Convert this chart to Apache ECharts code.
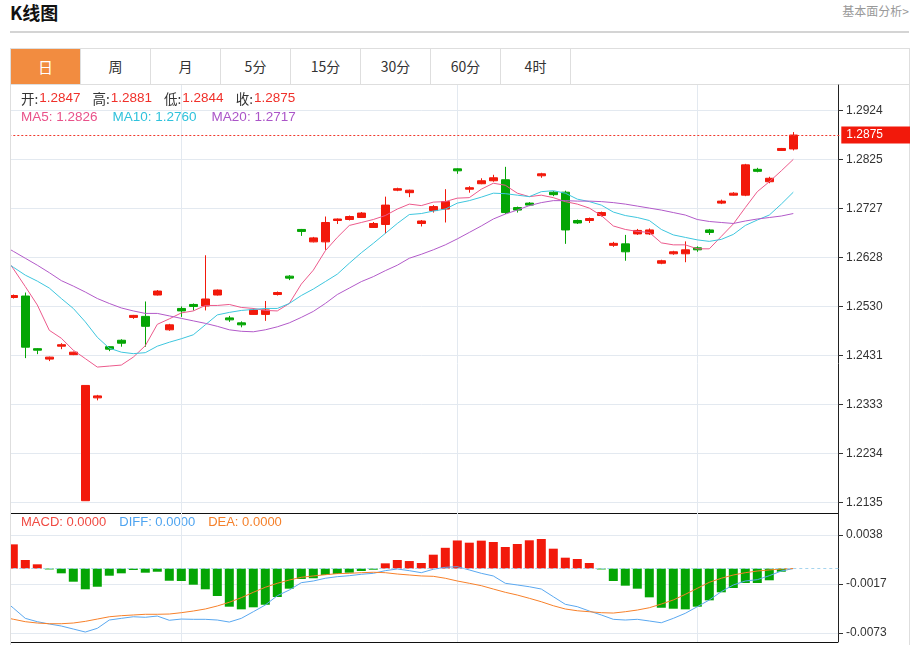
<!DOCTYPE html>
<html>
<head>
<meta charset="utf-8">
<script src="https://cdn.jsdelivr.net/npm/echarts@6/dist/echarts.min.js"></script>
<style>
  html,body{margin:0;padding:0;background:#fff;}
  body{font-family:"Liberation Sans","Noto Sans CJK SC",sans-serif;}
  #wrap{position:relative;width:918px;height:645px;overflow:hidden;background:#fff;}
  .title{position:absolute;left:10px;top:0;height:24px;line-height:24px;font-size:18px;font-weight:bold;color:#111;font-family:"Noto Sans CJK SC",sans-serif;}
  .more{position:absolute;right:9px;top:2px;line-height:18px;font-size:12px;color:#999;font-family:"Noto Sans CJK SC",sans-serif;}
  .hr{position:absolute;left:10px;top:31px;width:899px;height:2px;background:#d4d4d4;}
  .box{position:absolute;left:10px;top:48px;width:898px;height:640px;border:1px solid #dedede;}
  .tabs{position:absolute;left:11px;top:49px;width:898px;height:35px;border-bottom:1px solid #dedede;}
  .tab{float:left;width:69px;height:35px;border-right:1px solid #dedede;text-align:center;line-height:35px;font-size:14px;color:#333;font-family:"Noto Sans CJK SC",sans-serif;}
  .tab.on{background:#f28c40;color:#fff;font-size:15px;}
  #chart{position:absolute;left:0;top:0;width:918px;height:645px;}
  .mask{position:absolute;left:0;top:85px;width:10px;height:560px;background:#fff;border-right:1px solid #dedede;}
</style>
</head>
<body>
<div id="wrap">
  <div class="box"></div>
  <div class="title">K线图</div>
  <div class="more">基本面分析&gt;</div>
  <div class="hr"></div>
  <div class="tabs">
    <div class="tab on">日</div><div class="tab">周</div><div class="tab">月</div><div class="tab">5分</div><div class="tab">15分</div><div class="tab">30分</div><div class="tab">60分</div><div class="tab">4时</div>
  </div>
  <div id="chart"></div>
  <div class="mask"></div>
</div>
<script>
// ---------- data ----------
const categories = Array.from({length: 71}, (_, i) => 'd' + i);
const monthStartIdx = [15, 38, 58];

const opens = [null,
  1.2548, 1.2551, 1.2445, 1.2424, 1.2450, 1.2433, 1.2139, 1.2346, 1.2449, 1.2462,
  1.2508, 1.2510, 1.2553, 1.2483, 1.2526, 1.2534, 1.2531, 1.2553, 1.2507, 1.2497,
  1.2514, 1.2514, 1.2554, 1.2591, 1.2685, 1.2660, 1.2660, 1.2703, 1.2705, 1.2709,
  1.2689, 1.2695, 1.2764, 1.2759, 1.2697, 1.2723, 1.2726, 1.2807, 1.2766, 1.2777,
  1.2783, 1.2785, 1.2729, 1.2738, 1.2793, 1.2760, 1.2760, 1.2703, 1.2703, 1.2713,
  1.2653, 1.2656, 1.2676, 1.2676, 1.2617, 1.2636, 1.2636, 1.2648, 1.2684, 1.2738,
  1.2754, 1.2754, 1.2806, 1.2781, 1.2844, 1.2847];
const closes = [null,
  1.2552, 1.2448, 1.2442, 1.2428, 1.2453, 1.2438, 1.2371, 1.2350, 1.2444, 1.2456,
  1.2512, 1.2490, 1.2561, 1.2493, 1.2521, 1.2530, 1.2545, 1.2563, 1.2503, 1.2493,
  1.2523, 1.2523, 1.2558, 1.2587, 1.2681, 1.2668, 1.2699, 1.2706, 1.2711, 1.2718,
  1.2697, 1.2734, 1.2767, 1.2764, 1.2702, 1.2731, 1.2741, 1.2803, 1.2769, 1.2783,
  1.2789, 1.2719, 1.2724, 1.2734, 1.2797, 1.2755, 1.2684, 1.2698, 1.2707, 1.2719,
  1.2657, 1.2640, 1.2683, 1.2684, 1.2622, 1.2640, 1.2644, 1.2644, 1.2679, 1.2742,
  1.2758, 1.2815, 1.2802, 1.2788, 1.2848, 1.2875];
const lows = [null,
  1.2546, 1.2426, 1.2434, 1.2420, 1.2444, 1.2432, 1.2139, 1.2341, 1.2440, 1.2449,
  1.2505, 1.2449, 1.2552, 1.2481, 1.2509, 1.2522, 1.2522, 1.2552, 1.2499, 1.2488,
  1.2513, 1.2501, 1.2552, 1.2583, 1.2672, 1.2659, 1.2644, 1.2696, 1.2703, 1.2708,
  1.2688, 1.2677, 1.2762, 1.2750, 1.2691, 1.2719, 1.2699, 1.2797, 1.2759, 1.2776,
  1.2781, 1.2716, 1.2719, 1.2732, 1.2789, 1.2752, 1.2656, 1.2696, 1.2698, 1.2711,
  1.2650, 1.2622, 1.2674, 1.2674, 1.2615, 1.2634, 1.2619, 1.2640, 1.2674, 1.2736,
  1.2753, 1.2752, 1.2800, 1.2778, 1.2843, 1.2844];
const highs = [null,
  1.2554, 1.2558, 1.2446, 1.2429, 1.2456, 1.2439, 1.2371, 1.2352, 1.2450, 1.2464,
  1.2513, 1.2540, 1.2563, 1.2495, 1.2530, 1.2536, 1.2633, 1.2564, 1.2511, 1.2500,
  1.2526, 1.2541, 1.2560, 1.2593, 1.2686, 1.2670, 1.2711, 1.2707, 1.2713, 1.2720,
  1.2700, 1.2751, 1.2769, 1.2765, 1.2704, 1.2734, 1.2766, 1.2808, 1.2772, 1.2788,
  1.2795, 1.2811, 1.2731, 1.2740, 1.2799, 1.2762, 1.2763, 1.2705, 1.2709, 1.2721,
  1.2660, 1.2674, 1.2686, 1.2687, 1.2624, 1.2642, 1.2661, 1.2651, 1.2686, 1.2745,
  1.2760, 1.2817, 1.2809, 1.2791, 1.2849, 1.2881];

const ma5 = [1.2640,
  1.2606, 1.2570, 1.2533, 1.2482, 1.2466, 1.2442, 1.2425, 1.2408, 1.2410, 1.2412,
  1.2428, 1.2451, 1.2494, 1.2505, 1.2517, 1.2521, 1.2532, 1.2532, 1.2534, 1.2528,
  1.2526, 1.2522, 1.2521, 1.2536, 1.2575, 1.2603, 1.2642, 1.2669, 1.2693, 1.2699,
  1.2705, 1.2713, 1.2726, 1.2736, 1.2733, 1.2740, 1.2741, 1.2748, 1.2749, 1.2766,
  1.2778, 1.2774, 1.2758, 1.2751, 1.2754, 1.2749, 1.2741, 1.2736, 1.2728, 1.2713,
  1.2692, 1.2685, 1.2681, 1.2679, 1.2658, 1.2654, 1.2654, 1.2646, 1.2646, 1.2671,
  1.2696, 1.2729, 1.2761, 1.2781, 1.2803, 1.2826];
const ma10 = [1.2624,
  1.2609, 1.2593, 1.2581, 1.2567, 1.2546, 1.2526, 1.2499, 1.2468, 1.2446, 1.2438,
  1.2435, 1.2437, 1.2450, 1.2458, 1.2465, 1.2473, 1.2493, 1.2513, 1.2518, 1.2522,
  1.2524, 1.2526, 1.2526, 1.2536, 1.2552, 1.2565, 1.2580, 1.2595, 1.2617, 1.2638,
  1.2657, 1.2677, 1.2697, 1.2715, 1.2717, 1.2722, 1.2726, 1.2738, 1.2743, 1.2750,
  1.2758, 1.2757, 1.2754, 1.2751, 1.2761, 1.2763, 1.2758, 1.2746, 1.2741, 1.2734,
  1.2720, 1.2713, 1.2709, 1.2703, 1.2685, 1.2674, 1.2669, 1.2664, 1.2661, 1.2665,
  1.2675, 1.2693, 1.2704, 1.2714, 1.2736, 1.2760];
const ma20 = [1.2655,
  1.2641, 1.2627, 1.2613, 1.2598, 1.2582, 1.2571, 1.2559, 1.2546, 1.2536, 1.2527,
  1.2521, 1.2516, 1.2516, 1.2511, 1.2506, 1.2501, 1.2496, 1.2490, 1.2483, 1.2480,
  1.2479, 1.2483, 1.2489, 1.2497, 1.2508, 1.2520, 1.2536, 1.2554, 1.2567, 1.2580,
  1.2590, 1.2602, 1.2613, 1.2627, 1.2635, 1.2644, 1.2654, 1.2666, 1.2679, 1.2692,
  1.2706, 1.2716, 1.2724, 1.2733, 1.2739, 1.2743, 1.2743, 1.2742, 1.2742, 1.2741,
  1.2739, 1.2736, 1.2732, 1.2728, 1.2724, 1.2719, 1.2714, 1.2705, 1.2701, 1.2699,
  1.2697, 1.2702, 1.2706, 1.2709, 1.2712, 1.2717];

const macd = [null,
  0.00274, 0.00097, 0.00048, -0.00010, -0.00054, -0.00149, -0.00235, -0.00206, -0.00081, -0.00054,
  -0.00016, -0.00047, -0.00036, -0.00138, -0.00141, -0.00183, -0.00235, -0.00311, -0.00432, -0.00462,
  -0.00439, -0.00410, -0.00322, -0.00228, -0.00118, -0.00110, -0.00073, -0.00062, -0.00047, -0.00028,
  -0.00013, 0.00059, 0.00097, 0.00085, 0.00063, 0.00157, 0.00235, 0.00318, 0.00293, 0.00316,
  0.00301, 0.00244, 0.00278, 0.00320, 0.00335, 0.00225, 0.00123, 0.00108, 0.00063, -0.00010,
  -0.00141, -0.00194, -0.00228, -0.00326, -0.00444, -0.00455, -0.00462, -0.00432, -0.00360, -0.00269,
  -0.00220, -0.00164, -0.00164, -0.00133, -0.00036, 0];
const diff = [-0.00334,
  -0.00447, -0.00564, -0.00602, -0.00628, -0.00651, -0.00685, -0.00719, -0.00677, -0.00583, -0.00564,
  -0.00546, -0.00552, -0.00538, -0.00586, -0.00572, -0.00575, -0.00575, -0.00583, -0.00606, -0.00564,
  -0.00489, -0.00413, -0.00308, -0.00243, -0.00160, -0.00141, -0.00110, -0.00092, -0.00081, -0.00065,
  -0.00054, -0.00024, -0.00005, -0.00024, -0.00047, -0.00008, 0.00014, 0.00021, -0.00016, -0.00054,
  -0.00084, -0.00167, -0.00186, -0.00206, -0.00232, -0.00319, -0.00405, -0.00432, -0.00481, -0.00526,
  -0.00575, -0.00583, -0.00575, -0.00594, -0.00614, -0.00564, -0.00507, -0.00432, -0.00356, -0.00262,
  -0.00186, -0.00141, -0.00126, -0.00081, -0.00028, 0];
const dea = [-0.00546,
  -0.00574, -0.00602, -0.00617, -0.00625, -0.00625, -0.00617, -0.00598, -0.00572, -0.00546, -0.00534,
  -0.00526, -0.00518, -0.00518, -0.00515, -0.00500, -0.00481, -0.00458, -0.00424, -0.00382, -0.00330,
  -0.00269, -0.00212, -0.00167, -0.00130, -0.00099, -0.00084, -0.00070, -0.00058, -0.00054, -0.00047,
  -0.00042, -0.00047, -0.00062, -0.00073, -0.00084, -0.00088, -0.00110, -0.00141, -0.00167, -0.00194,
  -0.00232, -0.00269, -0.00300, -0.00337, -0.00376, -0.00421, -0.00458, -0.00478, -0.00489, -0.00500,
  -0.00504, -0.00489, -0.00470, -0.00444, -0.00402, -0.00356, -0.00292, -0.00224, -0.00156, -0.00110,
  -0.00073, -0.00047, -0.00028, -0.00016, -0.00005, 0];

const priceTickLabels = ['1.2135', '1.2234', '1.2333', '1.2431', '1.2530', '1.2628', '1.2727', '1.2825', '1.2924'];
const macdTickLabels = ['-0.0073', '-0.0017', '0.0038'];
const priceMin = 1.2135, priceMax = 1.2924;
const macdMin = -0.0073, macdMax = 0.0038;

// ---------- styles ----------
const RED = '#f2190b', GREEN = '#04a504';
const GRID_LINE = '#e3e9f0';
const C_MA5 = '#ec5a8c', C_MA10 = '#3ec6de', C_MA20 = '#b25ac9';
const C_DIFF = '#5aa8f0', C_DEA = '#f7802a';
const FONT = '"Liberation Sans","Noto Sans CJK SC",sans-serif';
const CJK = '"Noto Sans CJK SC","Liberation Sans",sans-serif';

const last = closes.length - 1;
const lastClose = closes[last];
const candleData = opens.map((o, i) => o == null ? '-' : [o, closes[i], lows[i], highs[i]]);
const macdData = macd.map(v => v == null ? '-' : {value: v, itemStyle: {color: v >= 0 ? RED : GREEN}});

const GL = 1.3, GR = 918 - 841.3;
const hiddenX = (gi) => ({
  type: 'category', gridIndex: gi, data: categories, boundaryGap: false,
  axisLine: {show: false}, axisTick: {show: false}, axisLabel: {show: false}, splitLine: {show: false}
});

const chart = echarts.init(document.getElementById('chart'));
chart.setOption({
  animation: false,
  grid: [
    {left: GL, right: GR, top: 110.7, height: 392},
    {left: GL, right: GR, top: 535, height: 98},
    {left: GL, right: GR, top: 85, bottom: 3}
  ],
  xAxis: [
    hiddenX(0),
    hiddenX(1),
    {
      type: 'category', gridIndex: 2, data: categories, boundaryGap: false,
      axisLine: {show: false}, axisTick: {show: false}, axisLabel: {show: false},
      splitLine: {show: true, interval: (idx) => monthStartIdx.indexOf(idx) >= 0, lineStyle: {color: GRID_LINE, width: 1}}
    }
  ],
  yAxis: [
    {
      type: 'value', gridIndex: 0, position: 'right', offset: -3.3,
      min: priceMin, max: priceMax, interval: (priceMax - priceMin) / 8,
      axisLine: {show: false},
      axisTick: {show: true, length: 5, lineStyle: {color: '#333'}},
      axisLabel: {show: true, margin: 8, color: '#333', fontSize: 12, fontFamily: FONT,
        showMinLabel: true, showMaxLabel: true,
        formatter: (v, i) => priceTickLabels[i] || ''},
      splitLine: {show: true, lineStyle: {color: GRID_LINE, width: 1}}
    },
    {
      type: 'value', gridIndex: 1, position: 'right', offset: -3.3,
      min: macdMin, max: macdMax, interval: (macdMax - macdMin) / 2,
      axisLine: {show: false},
      axisTick: {show: true, length: 5, lineStyle: {color: '#333'}},
      axisLabel: {show: true, margin: 8, color: '#333', fontSize: 12, fontFamily: FONT,
        showMinLabel: true, showMaxLabel: true,
        formatter: (v, i) => macdTickLabels[i] || ''},
      splitLine: {show: true, lineStyle: {color: GRID_LINE, width: 1}}
    },
    {
      type: 'value', gridIndex: 2, position: 'right', offset: -3.3, min: 0, max: 1,
      axisLine: {show: true, lineStyle: {color: '#222', width: 1}},
      axisTick: {show: false}, axisLabel: {show: false}, splitLine: {show: false}
    }
  ],
  series: [
    {
      type: 'candlestick', name: 'K', xAxisIndex: 0, yAxisIndex: 0, data: candleData,
      barWidth: 9, silent: true,
      itemStyle: {color: RED, color0: GREEN, borderColor: RED, borderColor0: GREEN, borderWidth: 1}
    },
    {type: 'line', name: 'MA5', xAxisIndex: 0, yAxisIndex: 0, data: ma5, showSymbol: false, silent: true,
      lineStyle: {color: C_MA5, width: 1}, itemStyle: {color: C_MA5}},
    {type: 'line', name: 'MA10', xAxisIndex: 0, yAxisIndex: 0, data: ma10, showSymbol: false, silent: true,
      lineStyle: {color: C_MA10, width: 1}, itemStyle: {color: C_MA10}},
    {type: 'line', name: 'MA20', xAxisIndex: 0, yAxisIndex: 0, data: ma20, showSymbol: false, silent: true,
      lineStyle: {color: C_MA20, width: 1}, itemStyle: {color: C_MA20},
      markLine: {
        silent: true, symbol: ['none', 'none'], animation: false, precision: 4,
        lineStyle: {color: '#f03a2e', type: [2, 2], width: 1},
        label: {
          show: true, position: 'end', distance: 0,
          formatter: () => lastClose.toFixed(4),
          color: '#fff', backgroundColor: RED, fontSize: 12, fontFamily: FONT,
          padding: [3, 27, 2, 5], lineHeight: 12
        },
        data: [{yAxis: lastClose}]
      }
    },
    {
      type: 'bar', name: 'MACD', xAxisIndex: 1, yAxisIndex: 1, data: macdData, barWidth: 9, silent: true,
      markLine: {
        silent: true, symbol: ['none', 'none'], animation: false, label: {show: false},
        lineStyle: {color: '#a6d4ee', type: [3, 3], width: 1},
        data: [{yAxis: 0}]
      }
    },
    {type: 'line', name: 'DIFF', xAxisIndex: 1, yAxisIndex: 1, data: diff, showSymbol: false, silent: true,
      lineStyle: {color: C_DIFF, width: 1}, itemStyle: {color: C_DIFF}},
    {type: 'line', name: 'DEA', xAxisIndex: 1, yAxisIndex: 1, data: dea, showSymbol: false, silent: true,
      lineStyle: {color: C_DEA, width: 1}, itemStyle: {color: C_DEA}}
  ],
  graphic: [
    {
      type: 'text', left: 21, top: 92, silent: true,
      style: {
        text: '{k|开:}{v|' + opens[last].toFixed(4) + '}{k|高:}{v|' + highs[last].toFixed(4) +
              '}{k|低:}{v|' + lows[last].toFixed(4) + '}{k|收:}{w|' + lastClose.toFixed(4) + '}',
        rich: {
          k: {fill: '#333', fontSize: 13.5, fontFamily: CJK},
          v: {fill: '#f0302a', fontSize: 13.5, fontFamily: FONT, padding: [0, 12, 0, 1]},
          w: {fill: '#f0302a', fontSize: 13.5, fontFamily: FONT, padding: [0, 0, 0, 1]}
        }
      }
    },
    {
      type: 'text', left: 21, top: 111, silent: true,
      style: {
        text: '{a|MA5: ' + ma5[last].toFixed(4) + '}{b|MA10: ' + ma10[last].toFixed(4) + '}{c|MA20: ' + ma20[last].toFixed(4) + '}',
        rich: {
          a: {fill: '#e9528a', fontSize: 13.5, fontFamily: FONT, padding: [0, 15, 0, 0]},
          b: {fill: '#2fc2dc', fontSize: 13.5, fontFamily: FONT, padding: [0, 15, 0, 0]},
          c: {fill: '#ab55c8', fontSize: 13.5, fontFamily: FONT}
        }
      }
    },
    {
      type: 'text', left: 21, top: 516, silent: true,
      style: {
        text: '{a|MACD: ' + macd[last].toFixed(4) + '}{b|DIFF: ' + diff[last].toFixed(4) + '}{c|DEA: ' + dea[last].toFixed(4) + '}',
        rich: {
          a: {fill: '#f04a42', fontSize: 13, fontFamily: FONT, padding: [0, 13, 0, 0]},
          b: {fill: '#4ea4f0', fontSize: 13, fontFamily: FONT, padding: [0, 13, 0, 0]},
          c: {fill: '#f5802a', fontSize: 13, fontFamily: FONT}
        }
      }
    },
    {type: 'line', silent: true, shape: {x1: 11, y1: 513.5, x2: 838, y2: 513.5}, style: {stroke: '#111', lineWidth: 1.2}},
    {type: 'line', silent: true, shape: {x1: 11, y1: 642.5, x2: 838, y2: 642.5}, style: {stroke: '#111', lineWidth: 1.2}}
  ]
});
</script>
</body>
</html>
